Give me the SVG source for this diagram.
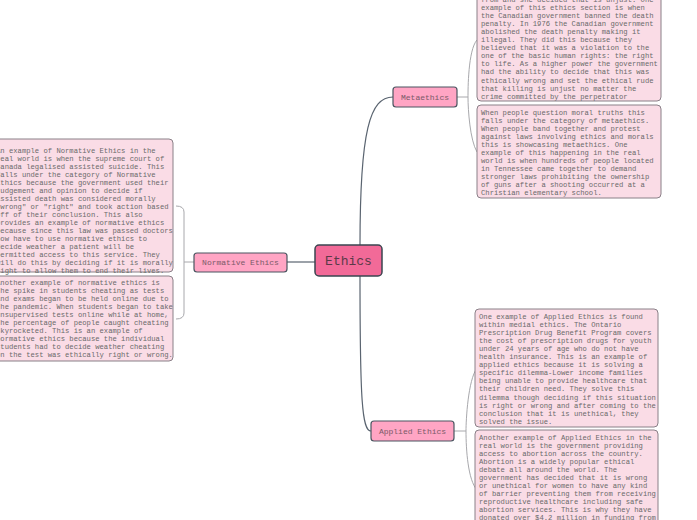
<svg xmlns="http://www.w3.org/2000/svg" width="697" height="520" viewBox="0 0 697 520">
<style>
.box{fill:#fadce6;stroke:#8a8088;stroke-width:1}
.sub{fill:#ffa5c4;stroke:#4a5560;stroke-width:1.2}
.t{font-family:"Liberation Mono",monospace;font-size:7.2px;fill:#6a6a6a}
.st{font-family:"Liberation Mono",monospace;font-size:8px;fill:#7a5a68}
.c{fill:none;stroke:#5a6470;stroke-width:1.2}
.b{fill:none;stroke:#a8a8ac;stroke-width:1}
</style>
<rect width="697" height="520" fill="#fff"/>
<g id="connectors">
<path class="c" d="M360,245 C360,130 370,97 393,97"/>
<path class="c" d="M360,276 C360,400 362,431 371,431"/>
<path class="c" d="M287,262 L315,262"/>
<path class="b" d="M457,97 L468,97 M477,40 C468,50 468,90 468,97 C468,110 470,140 477,152"/>
<path class="b" d="M194,262 L184,262 M176,206 Q184,206 184,212 L184,313 Q184,319 176,319"/>
<path class="b" d="M454,431 L466,431 M477,368 C468,380 466,420 466,431 C466,450 468,480 477,490"/>
</g>
<g id="ethics">
<rect x="315" y="245" width="67" height="31" rx="4" fill="#f26a98" stroke="#3a4550" stroke-width="1.5"/>
<text x="348.5" y="265" text-anchor="middle" font-family="Liberation Mono,monospace" font-size="13" fill="#5a3a48">Ethics</text>
</g>
<g id="metaethics">
<rect class="sub" x="393" y="87" width="64" height="20" rx="3"/>
<text class="st" x="425" y="100" text-anchor="middle">Metaethics</text>
</g>
<g id="normative">
<rect class="sub" x="194" y="253" width="93" height="19" rx="3"/>
<text class="st" x="240.5" y="265" text-anchor="middle">Normative Ethics</text>
</g>
<g id="applied">
<rect class="sub" x="371" y="421" width="83" height="20" rx="3"/>
<text class="st" x="412.5" y="434" text-anchor="middle">Applied Ethics</text>
</g>
<g id="meta1">
<rect class="box" x="477" y="-60" width="184" height="161" rx="4"/>
<text class="t" x="481" y="1.5">from and she decided that is unjust. One</text>
<text class="t"><tspan x="481" y="9.6">example of this ethics section is when</tspan><tspan x="481" y="17.7">the Canadian government banned the death</tspan><tspan x="481" y="25.8">penalty. In 1976 the Canadian government</tspan><tspan x="481" y="33.9">abolished the death penalty making it</tspan><tspan x="481" y="42">illegal. They did this because they</tspan><tspan x="481" y="50.1">believed that it was a violation to the</tspan><tspan x="481" y="58.2">one of the basic human rights: the right</tspan><tspan x="481" y="66.3">to life. As a higher power the government</tspan><tspan x="481" y="74.4">had the ability to decide that this was</tspan><tspan x="481" y="82.5">ethically wrong and set the ethical rude</tspan><tspan x="481" y="90.6">that killing is unjust no matter the</tspan><tspan x="481" y="98.7">crime committed by the perpetrator</tspan></text>
</g>
<g id="meta2">
<rect class="box" x="477" y="105" width="184" height="93" rx="4"/>
<text class="t"><tspan x="481" y="114.5">When people question moral truths this</tspan><tspan x="481" y="122.5">falls under the category of metaethics.</tspan><tspan x="481" y="130.5">When people band together and protest</tspan><tspan x="481" y="138.5">against laws involving ethics and morals</tspan><tspan x="481" y="146.5">this is showcasing metaethics. One</tspan><tspan x="481" y="154.5">example of this happening in the real</tspan><tspan x="481" y="162.5">world is when hundreds of people located</tspan><tspan x="481" y="170.5">in Tennessee came together to demand</tspan><tspan x="481" y="178.5">stronger laws prohibiting the ownership</tspan><tspan x="481" y="186.5">of guns after a shooting occurred at a</tspan><tspan x="481" y="194.5">Christian elementary school.</tspan></text>
</g>
<g id="norm1">
<rect class="box" x="-10" y="139" width="183" height="133" rx="4"/>
<text class="t"><tspan x="-4" y="152.5">An example of Normative Ethics in the</tspan><tspan x="-4" y="160.5">real world is when the supreme court of</tspan><tspan x="-4" y="168.5">Canada legalised assisted suicide. This</tspan><tspan x="-4" y="176.5">falls under the category of Normative</tspan><tspan x="-4" y="184.5">Ethics because the government used their</tspan><tspan x="-4" y="192.5">judgement and opinion to decide if</tspan><tspan x="-4" y="200.5">assisted death was considered morally</tspan><tspan x="-4" y="208.5">"wrong" or "right" and took action based</tspan><tspan x="-4" y="216.5">off of their conclusion. This also</tspan><tspan x="-4" y="224.5">provides an example of normative ethics</tspan><tspan x="-4" y="232.5">because since this law was passed doctors</tspan><tspan x="-4" y="240.5">now have to use normative ethics to</tspan><tspan x="-4" y="248.5">decide weather a patient will be</tspan><tspan x="-4" y="256.5">permitted access to this service. They</tspan><tspan x="-4" y="264.5">will do this by deciding if it is morally</tspan><tspan x="-4" y="272.5">right to allow them to end their lives.</tspan></text>
</g>
<g id="norm2">
<rect class="box" x="-10" y="276" width="183" height="85" rx="4"/>
<text class="t"><tspan x="-4" y="284.5">Another example of normative ethics is</tspan><tspan x="-4" y="292.5">the spike in students cheating as tests</tspan><tspan x="-4" y="300.5">and exams began to be held online due to</tspan><tspan x="-4" y="308.5">the pandemic. When students began to take</tspan><tspan x="-4" y="316.5">unsupervised tests online while at home,</tspan><tspan x="-4" y="324.5">the percentage of people caught cheating</tspan><tspan x="-4" y="332.5">skyrocketed. This is an example of</tspan><tspan x="-4" y="340.5">normative ethics because the individual</tspan><tspan x="-4" y="348.5">students had to decide weather cheating</tspan><tspan x="-4" y="356.5">on the test was ethically right or wrong.</tspan></text>
</g>
<g id="applied1">
<rect class="box" x="475" y="309" width="183" height="118" rx="4"/>
<text class="t"><tspan x="479" y="318.5">One example of Applied Ethics is found</tspan><tspan x="479" y="326.6">within medial ethics. The Ontario</tspan><tspan x="479" y="334.7">Prescription Drug Benefit Program covers</tspan><tspan x="479" y="342.8">the cost of prescription drugs for youth</tspan><tspan x="479" y="350.9">under 24 years of age who do not have</tspan><tspan x="479" y="359">health insurance. This is an example of</tspan><tspan x="479" y="367.1">applied ethics because it is solving a</tspan><tspan x="479" y="375.2">specific dilemma-Lower income families</tspan><tspan x="479" y="383.3">being unable to provide healthcare that</tspan><tspan x="479" y="391.4">their children need. They solve this</tspan><tspan x="479" y="399.5">dilemma though deciding if this situation</tspan><tspan x="479" y="407.6">is right or wrong and after coming to the</tspan><tspan x="479" y="415.7">conclusion that it is unethical, they</tspan><tspan x="479" y="423.8">solved the issue.</tspan></text>
</g>
<g id="applied2">
<rect class="box" x="475" y="430" width="183" height="120" rx="4"/>
<text class="t"><tspan x="479" y="439.5">Another example of Applied Ethics in the</tspan><tspan x="479" y="447.5">real world is the government providing</tspan><tspan x="479" y="455.5">access to abortion across the country.</tspan><tspan x="479" y="463.5">Abortion is a widely popular ethical</tspan><tspan x="479" y="471.5">debate all around the world. The</tspan><tspan x="479" y="479.5">government has decided that it is wrong</tspan><tspan x="479" y="487.5">or unethical for women to have any kind</tspan><tspan x="479" y="495.5">of barrier preventing them from receiving</tspan><tspan x="479" y="503.5">reproductive healthcare including safe</tspan><tspan x="479" y="511.5">abortion services. This is why they have</tspan><tspan x="479" y="519.5">donated over $4.2 million in funding from</tspan></text>
</g>
</svg>
